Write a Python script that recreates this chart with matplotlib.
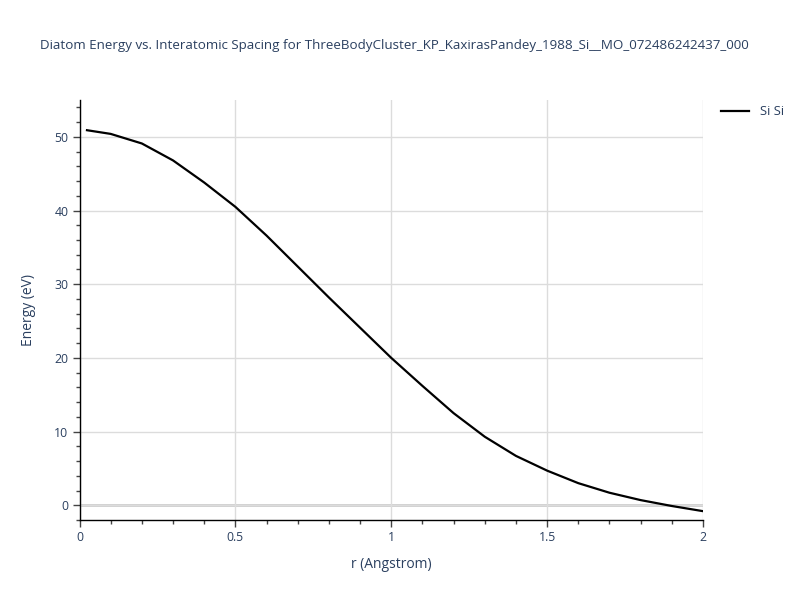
import numpy as np
import matplotlib.pyplot as plt
from matplotlib.ticker import MultipleLocator

plt.rcParams['font.family'] = ['Open Sans', 'DejaVu Sans']

# donnees
r = [0.024, 0.1, 0.2, 0.3, 0.4, 0.5, 0.6, 0.7, 0.8, 0.9, 1.0,
     1.1, 1.2, 1.3, 1.4, 1.5, 1.6, 1.7, 1.8, 1.9, 2.0]
energy = [50.9, 50.4, 49.1, 46.8, 43.8, 40.5, 36.6, 32.4, 28.2, 24.1, 20.0,
          16.2, 12.5, 9.3, 6.7, 4.7, 3.0, 1.7, 0.7, -0.1, -0.8]

title = "Diatom Energy vs. Interatomic Spacing for ThreeBodyCluster_KP_KaxirasPandey_1988_Si__MO_072486242437_000"
txt = '#2a3f5f'
grid = '#dcdcdc'

fig = plt.figure(figsize=(8, 6), dpi=100)
ax = fig.add_axes([79.5/800, 1 - 520/600, (703 - 79.5)/800, 420/600])

ax.plot(r, energy, color='black', lw=1.6, label='Si Si')
ax.set_xlim(0, 2)
ax.set_ylim(-2, 55)

ax.xaxis.set_minor_locator(MultipleLocator(0.1))
ax.yaxis.set_major_locator(MultipleLocator(10))
ax.yaxis.set_minor_locator(MultipleLocator(2))
ax.set_xticks([0, 0.5, 1, 1.5, 2])
ax.set_xticklabels(['0', '0.5', '1', '1.5', '2'])

ax.grid(True, which='major', color=grid, lw=1)
ax.axhline(0, color='#cccccc', lw=2, zorder=0.5)
ax.set_axisbelow(True)

for s in ['top', 'right']:
    ax.spines[s].set_visible(False)
for s in ['left', 'bottom']:
    ax.spines[s].set_color('black')
    ax.spines[s].set_linewidth(1)

ax.tick_params(which='major', direction='out', length=5, width=1, color='#444444',
               labelsize=8.8, labelcolor=txt, pad=3)
ax.tick_params(which='minor', direction='out', length=3, width=1, color='#444444')

ax.set_xlabel('r (Angstrom)', fontsize=10, color=txt, labelpad=9)
ax.set_ylabel('Energy (eV)', fontsize=10, color=txt, labelpad=13)

fig.text(0.493, 1 - 45/600, title, ha='center', va='center', fontsize=9.6, color=txt)

ax.legend(loc='upper left', bbox_to_anchor=(1.02, 1.0), frameon=False,
          fontsize=9.4, labelcolor=txt, handlelength=2.2, borderaxespad=0)

fig.savefig('out.png', dpi=100)
